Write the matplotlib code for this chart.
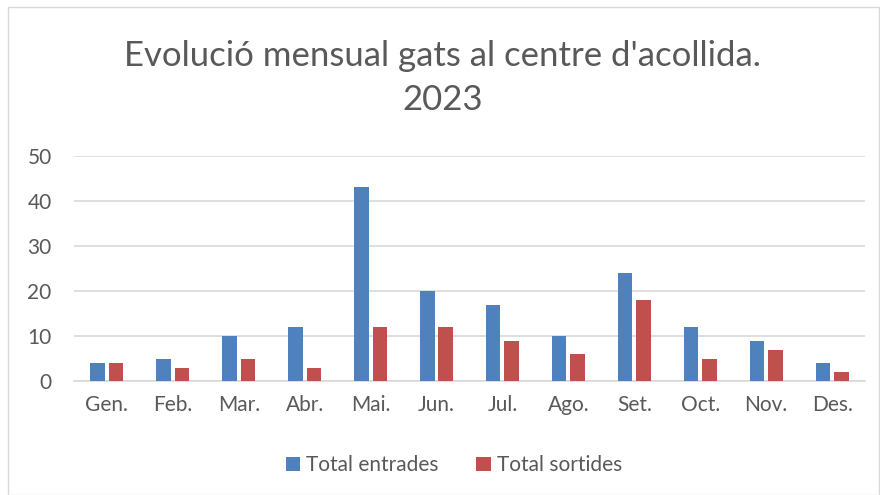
import numpy as np
import matplotlib
matplotlib.use("Agg")
import matplotlib.pyplot as plt
from matplotlib.patches import Rectangle

months = ["Gen.", "Feb.", "Mar.", "Abr.", "Mai.", "Jun.", "Jul.", "Ago.", "Set.", "Oct.", "Nov.", "Des."]
entrades = [4, 5, 10, 12, 43, 20, 17, 10, 24, 12, 9, 4]
sortides = [4, 3, 5, 3, 12, 12, 9, 6, 18, 5, 7, 2]
yticks = [0, 10, 20, 30, 40, 50]

plt.rcParams["font.family"] = ["Lato", "DejaVu Sans"]
grey = "#595959"

fig = plt.figure(figsize=(8.8, 4.95), dpi=100)
ax = fig.add_axes([0.084, 0.230, 0.899, 0.455])

x = np.arange(len(months))
w = 0.22
ax.bar(x - 0.14, entrades, w, color="#4F81BD", label="Total entrades", zorder=3)
ax.bar(x + 0.14, sortides, w, color="#C0504D", label="Total sortides", zorder=3)

ax.set_xlim(-0.5, len(months) - 0.5)
ax.set_ylim(0, 50)
ax.set_yticks(yticks)
ax.set_xticks(x)
ax.set_xticklabels(months)
ax.tick_params(axis="both", length=0, labelsize=15, colors=grey)
ax.tick_params(axis="x", pad=10)
ax.tick_params(axis="y", pad=16)

ax.grid(axis="y", color="#d9d9d9", linewidth=1.2, zorder=0)
for s in ["top", "right", "left"]:
    ax.spines[s].set_visible(False)
ax.spines["bottom"].set_color("#d9d9d9")
ax.spines["bottom"].set_linewidth(1.2)

fig.text(0.503, 0.842, "Evolució mensual gats al centre d'acollida.\n2023",
         ha="center", va="center", fontsize=25, color=grey, linespacing=1.45)

fig.legend(loc="center", bbox_to_anchor=(0.516, 0.06), ncol=2, frameon=False,
           fontsize=15, labelcolor=grey, handlelength=0.7, handleheight=0.7,
           handletextpad=0.3, columnspacing=1.8)

fig.patches.append(Rectangle((0.009, 0.0), 0.99, 0.985, transform=fig.transFigure,
                             fill=False, edgecolor="#d9d9d9", linewidth=1))

fig.savefig("out.png", dpi=100)
